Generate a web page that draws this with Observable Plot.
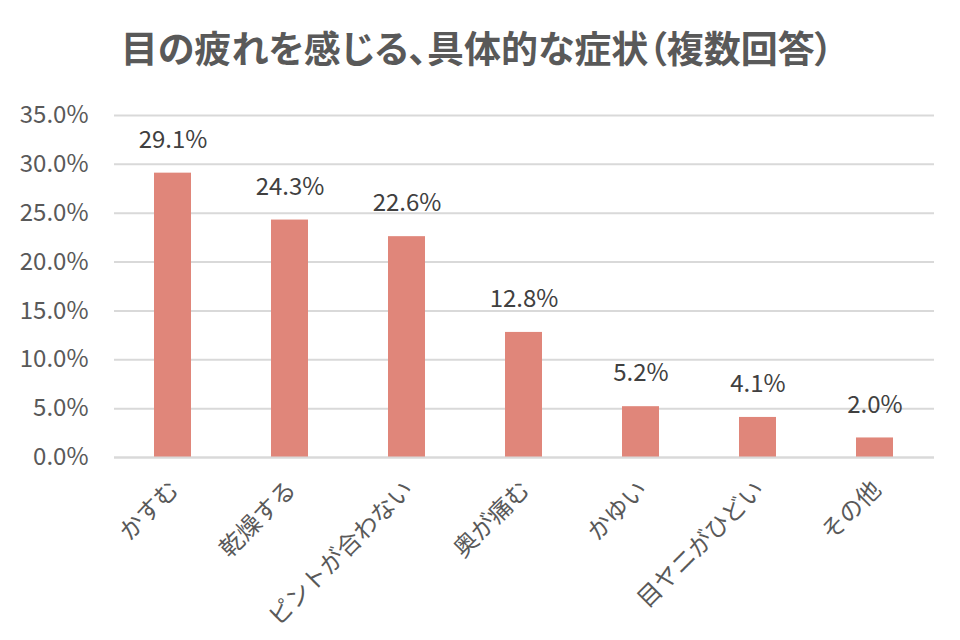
<!DOCTYPE html>
<html><head><meta charset="utf-8">
<script src="https://cdn.jsdelivr.net/npm/d3@7"></script>
<script src="https://cdn.jsdelivr.net/npm/@observablehq/plot@0.6"></script>
<style>
body{margin:0;background:#fff;font-family:"Noto Sans CJK JP","Noto Sans",sans-serif;}
#title{height:90px;line-height:94px;text-align:center;font-size:37px;font-weight:700;color:#595959;font-feature-settings:"palt";white-space:nowrap;padding-right:6px;}
</style></head>
<body>
<div id="title">目の疲れを感じる、具体的な症状（複数回答）</div>
<div id="chart"></div>
<script>
const categories = ["かすむ","乾燥する","ピントが合わない","奥が痛む","かゆい","目ヤニがひどい","その他"];
const values = [29.1, 24.3, 22.6, 12.8, 5.2, 4.1, 2.0];
const yTicks = [0,5,10,15,20,25,30,35];

const data = categories.map((c,i)=>({cat:c, value:values[i]}));
const fmt = d => d.toFixed(1) + "%";

const chart = Plot.plot({
  width: 960, height: 550,
  marginTop: 25, marginBottom: 183, marginLeft: 114, marginRight: 26,
  style: {fontFamily: '"Noto Sans CJK JP","Noto Sans",sans-serif', fontSize: "24px", color: "#595959", background: "#fff"},
  x: {domain: categories, paddingInner: 0.68, paddingOuter: 0.34, label: null},
  y: {domain: [0,35], label: null},
  marks: [
    Plot.gridY(yTicks, {stroke: "#d9d9d9", strokeOpacity: 1, strokeWidth: 2}),
    Plot.barY(data, {x: "cat", y: "value", fill: "#E0867A"}),
    Plot.ruleY([0], {stroke: "#d9d9d9", strokeWidth: 2}),
    Plot.axisY(yTicks, {tickSize: 0, tickPadding: 26, tickFormat: fmt, fontSize: 24, fill: "#595959"}),
    Plot.axisX({tickSize: 0, tickPadding: 0, tickRotate: -45, fontSize: 24, fill: "#595959", dx: 2, dy: 28}),
    Plot.text(data, {x: "cat", y: "value", text: d => fmt(d.value), dy: -33, fontSize: 24, fill: "#404040"})
  ]
});
document.getElementById("chart").appendChild(chart);
</script>
</body></html>
